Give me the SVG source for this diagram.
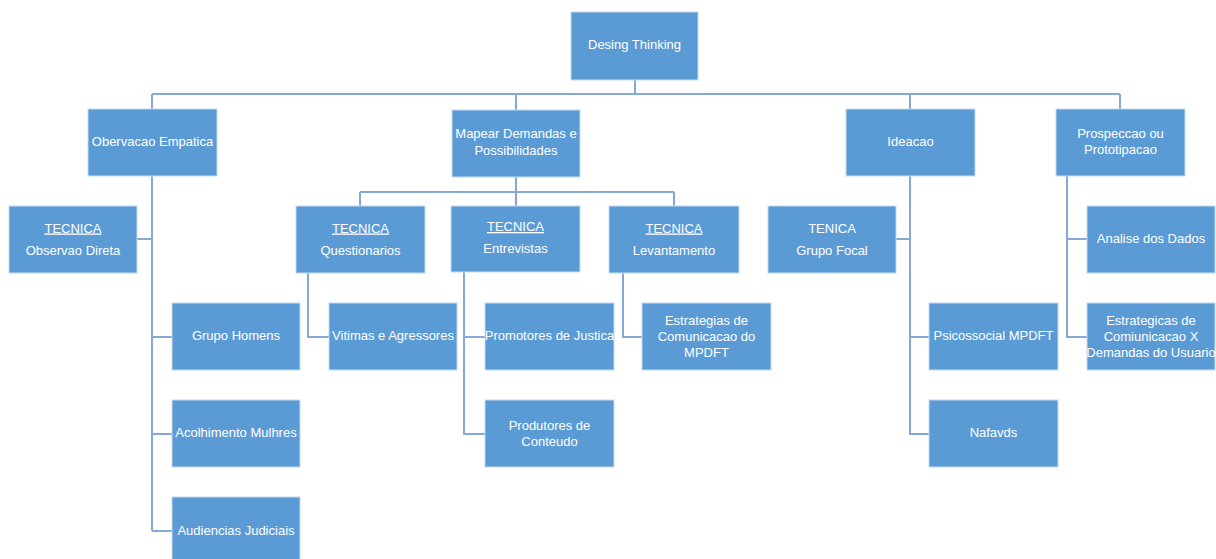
<svg xmlns="http://www.w3.org/2000/svg" width="1216" height="559" viewBox="0 0 1216 559">
<style>
.box{fill:#5B9BD5;stroke:#C5DAF0;stroke-width:1}
.t{font-family:"Liberation Sans",Arial,sans-serif;font-size:13px;fill:#FFFFFF;text-anchor:middle}
.u{text-decoration:underline}
.c{fill:none;stroke:#86A8D6;stroke-width:2}
</style>
<rect width="1216" height="559" fill="#FFFFFF"/>
<g id="connectors">
<path class="c" d="M635 80V94M152 94H1120M152 94V109M516 94V110M910 94V109M1120 94V109"/>
<path class="c" d="M516 177V206M360 192H674M360 192V206M674 192V206"/>
<path class="c" d="M152 176V531M137 239H152M152 337H172M152 434H172M152 531H172"/>
<path class="c" d="M308 273V337H329"/>
<path class="c" d="M464 272V434H485M464 337H485"/>
<path class="c" d="M623 273V337H642"/>
<path class="c" d="M910 176V434H929M896 239H910M910 337H929"/>
<path class="c" d="M1067 176V337H1087M1067 239H1087"/>
</g>
<g id="root"><rect class="box" x="571" y="12" width="127" height="68"/><text class="t" x="634.5" y="48.5">Desing Thinking</text></g>
<g id="obervacao"><rect class="box" x="88" y="109" width="129" height="67"/><text class="t" x="152.5" y="145.5">Obervacao Empatica</text></g>
<g id="mapear"><rect class="box" x="452" y="110" width="128" height="67"/><text class="t" x="516" y="137.5">Mapear Demandas e</text><text class="t" x="516" y="154.5">Possibilidades</text></g>
<g id="ideacao"><rect class="box" x="846" y="109" width="129" height="67"/><text class="t" x="910.5" y="145.5">Ideacao</text></g>
<g id="prospeccao"><rect class="box" x="1056" y="109" width="129" height="67"/><text class="t" x="1120.5" y="138">Prospeccao ou</text><text class="t" x="1120.5" y="154">Prototipacao</text></g>
<g id="obs-direta"><rect class="box" x="9" y="206" width="128" height="67"/><text class="t u" x="73" y="232.5">TECNICA</text><text class="t" x="73" y="254.5">Observao Direta</text></g>
<g id="questionarios"><rect class="box" x="296" y="206" width="129" height="67"/><text class="t u" x="360.5" y="232.5">TECNICA</text><text class="t" x="360.5" y="254.5">Questionarios</text></g>
<g id="entrevistas"><rect class="box" x="451" y="206" width="129" height="66"/><text class="t u" x="515.5" y="231">TECNICA</text><text class="t" x="515.5" y="253">Entrevistas</text></g>
<g id="levantamento"><rect class="box" x="609" y="206" width="130" height="67"/><text class="t u" x="674" y="232.5">TECNICA</text><text class="t" x="674" y="254.5">Levantamento</text></g>
<g id="grupo-focal"><rect class="box" x="768" y="206" width="128" height="67"/><text class="t" x="832" y="232.5">TENICA</text><text class="t" x="832" y="254.5">Grupo Focal</text></g>
<g id="analise"><rect class="box" x="1087" y="206" width="128" height="67"/><text class="t" x="1151" y="243">Analise dos Dados</text></g>
<g id="grupo-homens"><rect class="box" x="172" y="303" width="128" height="67"/><text class="t" x="236" y="340">Grupo Homens</text></g>
<g id="acolhimento"><rect class="box" x="172" y="400" width="128" height="67"/><text class="t" x="236" y="437">Acolhimento  Mulhres</text></g>
<g id="audiencias"><rect class="box" x="172" y="497" width="128" height="67"/><text class="t" x="236" y="535">Audiencias Judiciais</text></g>
<g id="vitimas"><rect class="box" x="329" y="303" width="128" height="67"/><text class="t" x="393" y="340">Vitimas e Agressores</text></g>
<g id="promotores"><rect class="box" x="485" y="303" width="129" height="67"/><text class="t" x="549.5" y="340">Promotores de Justica</text></g>
<g id="produtores"><rect class="box" x="485" y="400" width="129" height="67"/><text class="t" x="549.5" y="429.5">Produtores de</text><text class="t" x="549.5" y="445.5">Conteudo</text></g>
<g id="estrategias"><rect class="box" x="642" y="303" width="129" height="67"/><text class="t" x="706.5" y="324.5">Estrategias de</text><text class="t" x="706.5" y="340.5">Comunicacao do</text><text class="t" x="706.5" y="356.5">MPDFT</text></g>
<g id="psicossocial"><rect class="box" x="929" y="303" width="129" height="67"/><text class="t" x="993.5" y="340">Psicossocial MPDFT</text></g>
<g id="nafavds"><rect class="box" x="929" y="400" width="129" height="67"/><text class="t" x="993.5" y="436.5">Nafavds</text></g>
<g id="estrategicas"><rect class="box" x="1087" y="303" width="128" height="67"/><text class="t" x="1151" y="324.5">Estrategicas de</text><text class="t" x="1151" y="340.5">Comiunicacao X</text><text class="t" x="1151" y="356.5">Demandas do Usuario</text></g>
</svg>
